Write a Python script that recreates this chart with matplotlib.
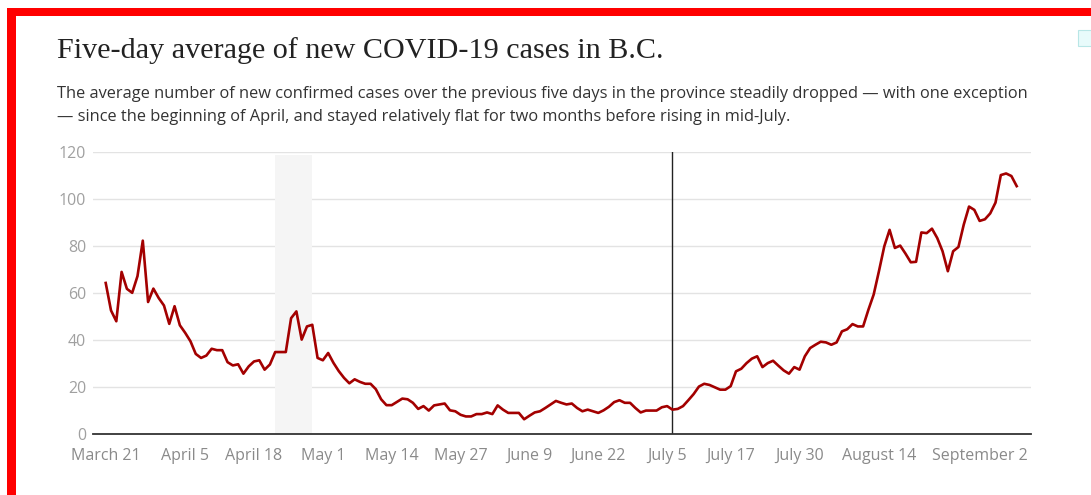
import matplotlib
matplotlib.use("Agg")
import matplotlib.pyplot as plt
import matplotlib.patches as mpatches
import pandas as pd

# five-day average of new cases, one value per day from March 21 to September 9
cases = [
    64.4, 52.7, 48.1, 69.1, 61.9, 60.2, 67.3, 82.4, 56.3, 62.0,
    58.0, 54.8, 47.0, 54.5, 46.4, 43.2, 39.6, 34.2, 32.5, 33.5,
    36.4, 35.8, 35.8, 30.7, 29.3, 29.8, 25.8, 28.9, 31.0, 31.5,
    27.5, 29.7, 35.0, 35.0, 35.0, 49.4, 52.3, 40.3, 45.9, 46.6,
    32.5, 31.5, 34.6, 30.4, 26.9, 24.0, 21.7, 23.4, 22.3, 21.5,
    21.5, 19.2, 14.9, 12.4, 12.4, 13.8, 15.2, 14.9, 13.4, 10.8,
    12.0, 10.1, 12.3, 12.7, 13.1, 10.2, 9.8, 8.3, 7.6, 7.6,
    8.6, 8.6, 9.3, 8.6, 12.3, 10.5, 9.1, 9.1, 9.1, 6.4,
    7.9, 9.3, 9.8, 11.2, 12.7, 14.2, 13.4, 12.7, 13.1, 11.2,
    9.8, 10.5, 9.8, 9.1, 10.2, 11.7, 13.7, 14.5, 13.4, 13.4,
    11.2, 9.3, 10.1, 10.1, 10.1, 11.5, 12.0, 10.5, 10.8, 12.0,
    14.5, 17.1, 20.3, 21.5, 21.0, 20.0, 19.0, 19.0, 20.5, 26.8,
    27.9, 30.3, 32.2, 33.2, 28.6, 30.3, 31.3, 29.2, 27.2, 25.8,
    28.6, 27.5, 33.2, 36.7, 38.1, 39.4, 39.1, 38.1, 39.1, 43.8,
    44.7, 46.9, 45.9, 45.9, 53.0, 59.5, 69.5, 80.0, 87.0, 79.3,
    80.3, 76.9, 73.2, 73.4, 85.9, 85.6, 87.5, 83.5, 77.9, 69.4,
    77.9, 79.7, 89.2, 96.9, 95.5, 90.8, 91.5, 94.0, 98.6, 110.3,
    111.0, 109.9, 105.6,
]
dates = pd.date_range("2020-03-21", periods=len(cases), freq="D")

tick_dates = ["2020-03-21", "2020-04-05", "2020-04-18", "2020-05-01", "2020-05-14",
              "2020-05-27", "2020-06-09", "2020-06-22", "2020-07-05", "2020-07-17",
              "2020-07-30", "2020-08-14", "2020-09-02"]
tick_labels = ["March 21", "April 5", "April 18", "May 1", "May 14", "May 27", "June 9",
               "June 22", "July 5", "July 17", "July 30", "August 14", "September 2"]
y_ticks = [0, 20, 40, 60, 80, 100, 120]

shade_start, shade_end = "2020-04-22", "2020-04-29"
marker_date = "2020-07-06"

title = "Five-day average of new COVID-19 cases in B.C."
subtitle_lines = [
    "The average number of new confirmed cases over the previous five days in the province steadily dropped \u2014 with one exception",
    "\u2014 since the beginning of April, and stayed relatively flat for two months before rising in mid-July.",
]

W, H = 1091, 495
fig = plt.figure(figsize=(W / 100, H / 100), dpi=100)
fig.patch.set_facecolor("white")

# red frame (top and left) and the little box at the right edge
fig.add_artist(mpatches.Rectangle((7 / W, 1 - 16 / H), 1, 8 / H, transform=fig.transFigure,
                                  color="#ff0000", lw=0))
fig.add_artist(mpatches.Rectangle((7 / W, 0), 9 / W, 1 - 8 / H, transform=fig.transFigure,
                                  color="#ff0000", lw=0))
fig.add_artist(mpatches.Rectangle((1078 / W, 1 - 46 / H), 14 / W, 16 / H, transform=fig.transFigure,
                                  facecolor="#e8fbfb", edgecolor="#b8e6e6", lw=0.8))

fig.text(57 / W, 1 - 58 / H, title, family="Liberation Serif", fontsize=21.7,
         color="#222222", ha="left", va="baseline")
for i, line in enumerate(subtitle_lines):
    fig.text(57 / W, 1 - (98 + 23 * i) / H, line, family="Open Sans", fontsize=11.8,
             color="#333333", ha="left", va="baseline")

ax = fig.add_axes([93 / W, 1 - 434.3 / H, (1031 - 93) / W, (434.3 - 152.3) / H])
ax.set_facecolor("white")

x0 = dates[0]
ax.set_xlim(x0 - pd.Timedelta(days=2.4), x0 + pd.Timedelta(days=174.7))
ax.set_ylim(0, 120)

ax.axvspan(pd.Timestamp(shade_start), pd.Timestamp(shade_end), ymin=0, ymax=0.99,
           color="#f5f5f5", lw=0, zorder=1)
for yv in y_ticks[1:]:
    ax.axhline(yv, color="#e3e3e3", lw=1, zorder=0.5)
ax.axvline(pd.Timestamp(marker_date), color="#222222", lw=1, zorder=3)

ax.plot(dates, cases, color="#a30000", lw=1.9, solid_joinstyle="round", zorder=4)

for side in ["top", "right", "left"]:
    ax.spines[side].set_visible(False)
ax.spines["bottom"].set_color("#333333")
ax.spines["bottom"].set_linewidth(1.3)
ax.spines["bottom"].set_zorder(5)

ax.set_xticks([pd.Timestamp(d) for d in tick_dates])
ax.set_xticklabels(tick_labels)
ax.set_yticks(y_ticks)
ax.set_yticklabels([str(v) for v in y_ticks])
ax.tick_params(axis="x", length=0, pad=10, labelsize=11.5, labelcolor="#8a8a8a")
ax.tick_params(axis="y", length=0, pad=5, labelsize=11.5, labelcolor="#a0a0a0")
for lab in ax.get_xticklabels() + ax.get_yticklabels():
    lab.set_family("Open Sans")

fig.savefig("out.png", dpi=100)
